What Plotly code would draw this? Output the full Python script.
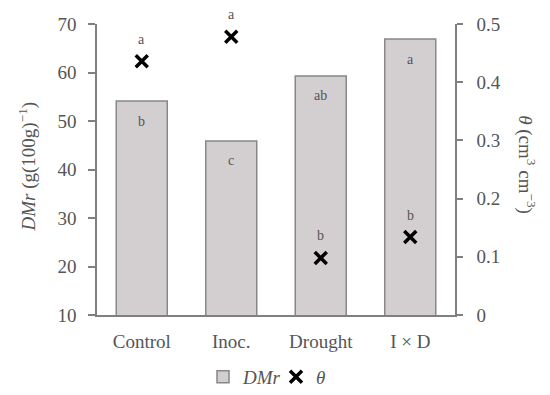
import plotly.graph_objects as go

categories = ["Control", "Inoc.", "Drought", "I × D"]
dmr_values = [54.1, 45.9, 59.3, 66.9]
theta_values = [0.436, 0.478, 0.098, 0.134]
dmr_letters = ["b", "c", "ab", "a"]
theta_letters = ["a", "a", "b", "b"]
left_ticks = [10, 20, 30, 40, 50, 60, 70]
right_ticks = [0, 0.1, 0.2, 0.3, 0.4, 0.5]
right_tick_labels = ["0", "0.1", "0.2", "0.3", "0.4", "0.5"]

FONT = "Liberation Serif"
TXT = "#555555"
AX = "#808080"

fig = go.Figure()
fig.add_trace(go.Bar(
    x=categories, y=dmr_values, name="<i>DMr</i>",
    marker=dict(color="#d3cfd0", line=dict(color="#888888", width=1.5)),
    width=0.57, yaxis="y",
))
fig.add_trace(go.Scatter(
    x=categories, y=theta_values, name="<i>θ</i>", mode="markers",
    marker=dict(symbol="x-thin", size=12, color="black",
                line=dict(color="black", width=3.5)),
    yaxis="y2",
))

annotations = []
for c, v, l in zip(categories, dmr_values, dmr_letters):
    annotations.append(dict(x=c, y=v, xref="x", yref="y", text=l, showarrow=False,
                            yshift=-20, font=dict(family=FONT, size=14, color=TXT)))
for c, v, l in zip(categories, theta_values, theta_letters):
    annotations.append(dict(x=c, y=v, xref="x", yref="y2", text=l, showarrow=False,
                            yshift=22, font=dict(family=FONT, size=14, color=TXT)))
annotations.append(dict(x=-0.193, y=0.51, xref="paper", yref="paper",
                        xanchor="center", yanchor="middle",
                        text="<i>DMr</i> (g(100g)<sup>−1</sup>)", showarrow=False,
                        textangle=-90, font=dict(family=FONT, size=19, color=TXT)))
annotations.append(dict(x=1.201, y=0.515, xref="paper", yref="paper",
                        xanchor="center", yanchor="middle",
                        text="<i>θ</i> (cm<sup>3</sup> cm<sup>−3</sup>)", showarrow=False,
                        textangle=90, font=dict(family=FONT, size=19, color=TXT)))

fig.update_layout(
    width=542, height=387,
    margin=dict(l=89, r=95, t=16, b=80, autoexpand=False),
    paper_bgcolor="white", plot_bgcolor="white",
    font=dict(family=FONT, size=19, color=TXT),
    showlegend=True,
    legend=dict(orientation="h", x=0.5, xanchor="center", y=-0.213, yanchor="middle",
                font=dict(family=FONT, size=19, color=TXT), itemwidth=30,
                entrywidth=28, entrywidthmode="pixels", tracegroupgap=0),
    xaxis=dict(range=[-0.5, 3.5], showline=True, linecolor=AX, linewidth=1.5,
               ticks="", showgrid=False, ticklabelstandoff=8,
               tickfont=dict(family=FONT, size=19, color=TXT)),
    yaxis=dict(range=[10, 70], tickvals=left_ticks, showline=True, linecolor=AX,
               linewidth=1.5, ticks="outside", ticklen=7, tickcolor=AX, tickwidth=1.5,
               showgrid=False, zeroline=False, ticklabelstandoff=8,
               tickfont=dict(family=FONT, size=19, color=TXT)),
    yaxis2=dict(range=[0, 0.5], tickvals=right_ticks, ticktext=right_tick_labels,
                overlaying="y", side="right", showline=True, linecolor=AX,
                linewidth=1.5, ticks="outside", ticklen=6, tickcolor=AX, tickwidth=1.5,
                showgrid=False, zeroline=False, ticklabelstandoff=10,
                tickfont=dict(family=FONT, size=19, color=TXT)),
    annotations=annotations,
)

fig.write_html("out.html")
